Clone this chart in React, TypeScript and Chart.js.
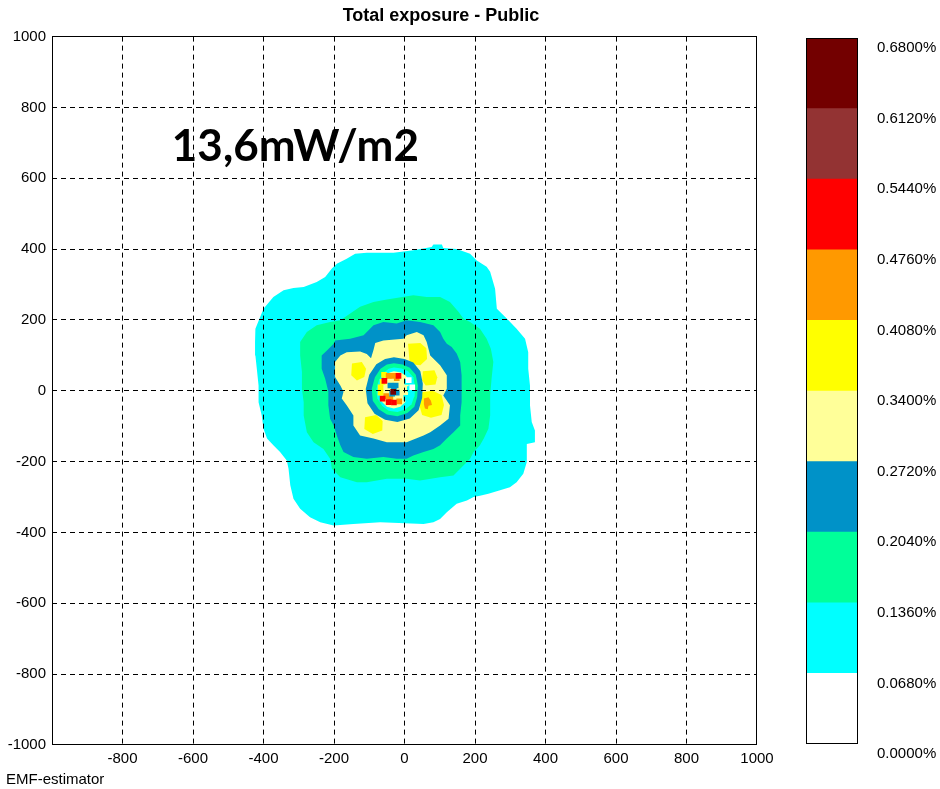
import React, { useEffect, useRef } from 'react';
import { Chart, registerables } from 'chart.js';

Chart.register(...registerables);

type Pt = [number, number];

// ---------- axes / legend values ----------
const axisTicks = [-1000, -800, -600, -400, -200, 0, 200, 400, 600, 800, 1000];
const colorbarTicks = [0, 0.068, 0.136, 0.204, 0.272, 0.34, 0.408, 0.476, 0.544, 0.612, 0.68];
const bandColors = ['#ffffff', '#00ffff', '#00ff99', '#0092c8', '#ffff99', '#ffff00', '#ff9900', '#ff0000', '#933333', '#730000'];
const chartTitle = 'Total exposure - Public';
const footerText = 'EMF-estimator';
const annotationText = '13,6mW/m2';
const annotationAt: Pt = [-660, 650];

// ---------- contour polygons (data units) ----------
const cyanContour: Pt[] = [
  [-423, 175], [-400, 232], [-372, 265], [-343, 284], [-315, 290], [-286, 293], [-249, 307], [-225, 321],
  [-206, 345], [-192, 359], [-164, 373], [-140, 387], [-107, 390], [-31, 390], [25, 397], [77, 406],
  [82, 413], [106, 413], [110, 403], [148, 400], [186, 387], [205, 368], [233, 350], [243, 336],
  [257, 288], [262, 232], [290, 204], [318, 175], [342, 147], [351, 109], [351, 62], [356, 15],
  [356, -41], [361, -88], [370, -112], [370, -145], [347, -150], [347, -201], [337, -234], [318, -258],
  [299, -272], [271, -281], [238, -291], [214, -296], [196, -300], [177, -310], [148, -319], [120, -343],
  [101, -362], [82, -371], [54, -376], [-69, -371], [-145, -376], [-201, -380], [-239, -371], [-268, -357],
  [-296, -333], [-315, -305], [-324, -267], [-329, -220], [-334, -197], [-353, -173], [-372, -154], [-390, -135],
  [-400, -107], [-405, -70], [-414, -32], [-414, 15], [-419, 62], [-423, 100], [-424, 138],
];
const greenContour: Pt[] = [
  [-296, 138], [-277, 166], [-249, 185], [-211, 194], [-182, 199], [-154, 218], [-126, 237], [-88, 251],
  [-50, 258], [25, 270], [63, 265], [101, 265], [129, 251], [153, 223], [167, 204], [186, 194],
  [214, 175], [233, 147], [245, 119], [252, 81], [247, 34], [243, -13], [243, -70], [238, -107],
  [225, -135], [214, -154], [196, -173], [186, -192], [158, -220], [139, -239], [101, -244], [44, -253],
  [6, -248], [-50, -248], [-107, -258], [-135, -258], [-182, -244], [-206, -220], [-211, -192], [-230, -164],
  [-258, -145], [-277, -117], [-286, -70], [-286, -32], [-291, 6], [-291, 53], [-296, 100],
];
const blueContour: Pt[] = [
  [-235, 100], [-220, 114], [-201, 133], [-197, 142], [-154, 147], [-116, 157], [-88, 185], [-60, 194],
  [-22, 190], [6, 199], [44, 194], [82, 185], [101, 166], [110, 147], [120, 133], [134, 124],
  [148, 105], [158, 81], [162, 44], [162, 6], [162, -32], [158, -70], [158, -98], [139, -117],
  [120, -135], [101, -154], [82, -164], [54, -173], [25, -183], [6, -192], [-22, -192], [-60, -187],
  [-107, -192], [-145, -187], [-173, -173], [-182, -154], [-192, -126], [-201, -98], [-211, -79], [-216, -41],
  [-216, -3], [-225, 34], [-235, 62],
];
const paleYellowContour: Pt[] = [
  [-197, 81], [-182, 100], [-164, 109], [-126, 111], [-107, 104], [-95, 92], [-88, 115], [-83, 135],
  [-60, 142], [-3, 147], [6, 157], [35, 166], [54, 157], [63, 138], [73, 100], [101, 72],
  [120, 44], [120, 6], [110, -13], [129, -41], [125, -79], [101, -98], [73, -117], [54, -126],
  [6, -145], [-50, -145], [-88, -135], [-126, -126], [-145, -98], [-145, -70], [-164, -41], [-178, -22],
  [-173, -3], [-182, 15], [-197, 39],
];
const yellowSpotA: Pt[] = [[-149, 77], [-121, 81], [-109, 62], [-114, 39], [-135, 29], [-151, 44]];
const yellowSpotB: Pt[] = [[10, 133], [45, 135], [62, 120], [64, 90], [45, 72], [15, 75]];
const yellowSpotC: Pt[] = [[52, 55], [85, 58], [93, 38], [88, 18], [60, 15], [50, 30]];
const yellowSpotD: Pt[] = [[45, -5], [80, 0], [105, -12], [112, -40], [105, -68], [75, -76], [50, -68], [42, -40]];
const yellowSpotE: Pt[] = [[-112, -75], [-80, -68], [-62, -85], [-63, -112], [-90, -122], [-114, -108]];
const orangeSpot: Pt[] = [[55, -22], [68, -18], [75, -28], [78, -40], [68, -42], [66, -52], [58, -50], [55, -38]];
const innerBlueRing: Pt[] = [
  [-30, 95], [0, 90], [25, 80], [45, 55], [52, 20], [50, -20], [40, -55], [15, -78],
  [-20, -88], [-55, -82], [-85, -65], [-105, -35], [-110, 5], [-100, 45], [-80, 75], [-55, 90],
];
const innerGreenRing: Pt[] = [
  [-30, 78], [-5, 74], [15, 65], [32, 45], [38, 15], [36, -18], [28, -45], [8, -63],
  [-20, -72], [-50, -67], [-73, -52], [-90, -28], [-93, 5], [-84, 38], [-68, 62], [-50, 74],
];
const innerCyanRing: Pt[] = [
  [-30, 66], [-8, 63], [10, 55], [25, 38], [30, 12], [28, -15], [20, -38], [3, -52],
  [-20, -60], [-45, -56], [-63, -43], [-77, -22], [-80, 5], [-72, 32], [-58, 52], [-45, 62],
];
const innerPaleCore: Pt[] = [
  [-30, 55], [-10, 52], [5, 42], [12, 20], [10, -10], [2, -32], [-12, -45], [-30, -50],
  [-50, -45], [-65, -30], [-72, -5], [-68, 22], [-55, 42], [-42, 52],
];

// ---------- isolated cells near the source ----------
const redCells: Pt[] = [[-57, 28], [-17, 42], [-45, -32], [-30, -33], [-62, -22]];
const orangeCells: Pt[] = [[-45, 42], [-32, 42], [-22, 36], [-52, -15], [-40, -22], [-15, -30]];
const yellowCells: Pt[] = [[-68, 10], [-68, -5], [-58, 45], [-62, 25]];
const blueCells: Pt[] = [[-30, 5], [-22, -5], [-35, -8], [-25, 15], [-40, 15]];
const darkRedCells: Pt[] = [[-32, -3]];
const cyanCells: Pt[] = [[8, 25], [15, 5], [20, -10], [5, -20]];
const whiteCells: Pt[] = [[22, 10], [12, 30]];

// ---------- drawing helpers ----------
const FONT = '"Liberation Sans", Arial, sans-serif';

const toXY = (pts: Pt[]) => pts.map(([x, y]) => ({ x, y }));

const framePlugin = {
  id: 'frame',
  afterDraw(chart: any) {
    const { ctx, chartArea: a } = chart;
    const x0 = Math.floor(a.left) + 0.5;
    const y0 = Math.floor(a.top) + 0.5;
    const x1 = Math.ceil(a.right) - 0.5;
    const y1 = Math.ceil(a.bottom) - 0.5;
    ctx.save();
    ctx.strokeStyle = '#000';
    ctx.lineWidth = 1;
    ctx.setLineDash([]);
    ctx.strokeRect(x0, y0, x1 - x0, y1 - y0);
    ctx.restore();
  },
};

const annotationPlugin = {
  id: 'bigLabel',
  afterDatasetsDraw(chart: any) {
    const { ctx, scales } = chart;
    ctx.save();
    ctx.font = 'bold 44px Lato, "Open Sans", sans-serif';
    ctx.fillStyle = '#000';
    ctx.textAlign = 'left';
    ctx.textBaseline = 'alphabetic';
    ctx.fillText(annotationText, scales.x.getPixelForValue(annotationAt[0]), scales.y.getPixelForValue(annotationAt[1]));
    ctx.restore();
  },
};

const gridColor = (c: any) =>
  c.tick && Math.abs(c.tick.value) === 1000 ? 'rgba(0,0,0,0)' : '#000';

function mainConfig(): any {
  const polygons: { pts: Pt[]; color: string }[] = [
    { pts: cyanContour, color: bandColors[1] },
    { pts: greenContour, color: bandColors[2] },
    { pts: blueContour, color: bandColors[3] },
    { pts: paleYellowContour, color: bandColors[4] },
    { pts: yellowSpotA, color: bandColors[5] },
    { pts: yellowSpotB, color: bandColors[5] },
    { pts: yellowSpotC, color: bandColors[5] },
    { pts: yellowSpotD, color: bandColors[5] },
    { pts: yellowSpotE, color: bandColors[5] },
    { pts: orangeSpot, color: bandColors[6] },
    { pts: innerBlueRing, color: bandColors[3] },
    { pts: innerGreenRing, color: bandColors[2] },
    { pts: innerCyanRing, color: bandColors[1] },
    { pts: innerPaleCore, color: bandColors[4] },
  ];
  const cells: { pts: Pt[]; color: string }[] = [
    { pts: yellowCells, color: bandColors[5] },
    { pts: orangeCells, color: bandColors[6] },
    { pts: redCells, color: bandColors[7] },
    { pts: blueCells, color: bandColors[3] },
    { pts: darkRedCells, color: bandColors[9] },
    { pts: cyanCells, color: bandColors[1] },
    { pts: whiteCells, color: bandColors[0] },
  ];
  const total = polygons.length + cells.length;
  const datasets: any[] = [];
  polygons.forEach((p, i) => {
    datasets.push({
      data: toXY(p.pts),
      showLine: true,
      fill: 'shape',
      backgroundColor: p.color,
      borderColor: 'rgba(0,0,0,0)',
      borderWidth: 0,
      pointRadius: 0,
      pointHoverRadius: 0,
      order: total - i,
    });
  });
  cells.forEach((c, j) => {
    datasets.push({
      data: toXY(c.pts),
      showLine: false,
      pointStyle: 'rect',
      pointRadius: 4,
      pointHoverRadius: 4,
      backgroundColor: c.color,
      borderWidth: 0,
      order: total - polygons.length - j,
    });
  });

  const tickFont = { family: FONT, size: 15 };
  return {
    type: 'scatter',
    data: { datasets },
    options: {
      animation: false,
      responsive: false,
      maintainAspectRatio: false,
      events: [],
      layout: { padding: { left: 6, right: 0, top: 0, bottom: 0 } },
      plugins: {
        legend: { display: false },
        tooltip: { enabled: false },
        title: {
          display: true,
          text: chartTitle,
          color: '#000',
          font: { family: FONT, size: 18, weight: 'bold', lineHeight: 1.2 },
          padding: { top: 5, bottom: 10 },
        },
        subtitle: {
          display: true,
          position: 'bottom',
          align: 'start',
          text: footerText,
          color: '#000',
          font: { family: FONT, size: 15, lineHeight: 1.2 },
          padding: { top: 5, bottom: 0 },
        },
      },
      scales: {
        x: {
          type: 'linear',
          min: -1000,
          max: 1000,
          afterBuildTicks: (s: any) => { s.ticks = axisTicks.map((v) => ({ value: v })); },
          afterFit: (s: any) => { s.height = 21; },
          ticks: {
            color: '#000',
            font: tickFont,
            padding: 5,
            maxRotation: 0,
            autoSkip: false,
            callback: (v: number) => (v === -1000 ? '' : String(v)),
          },
          grid: { color: gridColor, lineWidth: 1, drawTicks: false, z: 1 },
          border: { display: false, dash: [5, 4] },
        },
        y: {
          type: 'linear',
          min: -1000,
          max: 1000,
          afterBuildTicks: (s: any) => { s.ticks = axisTicks.map((v) => ({ value: v })); },
          afterFit: (s: any) => { s.width = 46; },
          ticks: { color: '#000', font: tickFont, padding: 6, autoSkip: false, callback: (v: number) => String(v) },
          grid: { color: gridColor, lineWidth: 1, drawTicks: false, z: 1 },
          border: { display: false, dash: [5, 4] },
        },
        y2: {
          type: 'linear',
          position: 'right',
          min: -1000,
          max: 1000,
          afterFit: (s: any) => { s.width = 119; },
          ticks: { display: false },
          grid: { display: false, drawTicks: false },
          border: { display: false },
        },
      },
    },
    plugins: [framePlugin, annotationPlugin],
  };
}

function barConfig(): any {
  const bands = bandColors.map((c, i) => ({
    data: [colorbarTicks[i + 1] - colorbarTicks[i]],
    backgroundColor: c,
    borderWidth: 0,
    barPercentage: 1,
    categoryPercentage: 1,
  }));
  return {
    type: 'bar',
    data: { labels: [''], datasets: bands },
    options: {
      animation: false,
      responsive: false,
      maintainAspectRatio: false,
      events: [],
      layout: { padding: { left: 16, right: 0, top: 38, bottom: 45 } },
      plugins: { legend: { display: false }, tooltip: { enabled: false } },
      scales: {
        x: { display: false, stacked: true },
        y: {
          stacked: true,
          position: 'right',
          min: 0,
          max: 0.68,
          afterBuildTicks: (s: any) => { s.ticks = colorbarTicks.map((v) => ({ value: v })); },
          afterFit: (s: any) => { s.width = 82; },
          ticks: {
            color: '#000',
            font: { family: FONT, size: 15 },
            padding: 19,
            labelOffset: 10,
            autoSkip: false,
            callback: (v: number) => Number(v).toFixed(4) + '%',
          },
          grid: { display: false, drawTicks: false },
          border: { display: false },
        },
      },
    },
    plugins: [framePlugin],
  };
}

export default function App() {
  const mainRef = useRef<HTMLCanvasElement>(null);
  const barRef = useRef<HTMLCanvasElement>(null);
  useEffect(() => {
    const main = new Chart(mainRef.current as HTMLCanvasElement, mainConfig());
    const bar = new Chart(barRef.current as HTMLCanvasElement, barConfig());
    return () => {
      main.destroy();
      bar.destroy();
    };
  }, []);
  return (
    <div style={{ position: 'absolute', left: 0, top: 0, width: 940, height: 789, background: '#fff', overflow: 'hidden' }}>
      <canvas ref={mainRef} width={876} height={789} style={{ position: 'absolute', left: 0, top: 0 }} />
      <canvas ref={barRef} width={150} height={789} style={{ position: 'absolute', left: 790, top: 0 }} />
    </div>
  );
}
